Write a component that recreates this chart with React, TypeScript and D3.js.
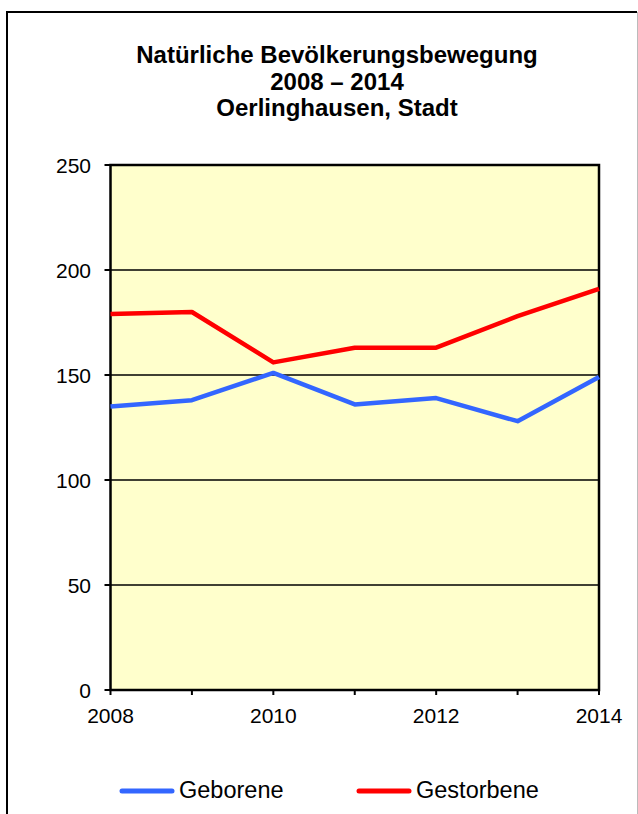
import React from "react";
import * as d3 from "d3";

const years = [2008, 2009, 2010, 2011, 2012, 2013, 2014];
const geborene = [135, 138, 151, 136, 139, 128, 149];
const gestorbene = [179, 180, 156, 163, 163, 178, 191];
const yTicks = [0, 50, 100, 150, 200, 250];
const xLabelYears = [2008, 2010, 2012, 2014];
const titleLines = ["Natürliche Bevölkerungsbewegung", "2008 – 2014", "Oerlinghausen, Stadt"];
const seriesNames = ["Geborene", "Gestorbene"];
const seriesColors = ["#3366FF", "#FF0000"];

export default function App() {
  const W = 638, H = 814;
  const left = 110.5, right = 599, top = 165, bottom = 690;
  const x = d3.scaleLinear().domain([2008, 2014]).range([left, right]);
  const y = d3.scaleLinear().domain([0, 250]).range([bottom, top]);
  const line = d3.line<number>().x((_, i) => x(years[i])).y((d) => y(d));
  const font = "'Liberation Sans', Arial, sans-serif";
  const series = [geborene, gestorbene];
  const legendX = [120, 357];
  return (
    <svg width={W} height={H} style={{ position: "absolute", left: 0, top: 0 }} fontFamily={font}>
      <rect x={0} y={0} width={W} height={H} fill="#fff" />
      <line x1={6} y1={12} x2={637} y2={12} stroke="#000" strokeWidth={2} />
      <line x1={7} y1={11} x2={7} y2={H} stroke="#000" strokeWidth={2} />
      <line x1={637.5} y1={12} x2={637.5} y2={H} stroke="#bbb" strokeWidth={1} />
      {titleLines.map((t, i) => (
        <text key={i} x={337} y={63 + i * 26.5} textAnchor="middle" fontWeight="bold" fontSize={24} fill="#000">
          {t}
        </text>
      ))}
      <rect x={left} y={top} width={right - left} height={bottom - top} fill="#FFFFCC" />
      {yTicks.filter((v) => v > 0 && v < 250).map((v) => (
        <line key={v} x1={left} x2={right} y1={y(v)} y2={y(v)} stroke="#000" strokeWidth={1.5} />
      ))}
      <rect x={left} y={top} width={right - left} height={bottom - top} fill="none" stroke="#000" strokeWidth={2.5} />
      {yTicks.map((v) => (
        <g key={v}>
          <line x1={left - 6} x2={left} y1={y(v)} y2={y(v)} stroke="#000" strokeWidth={2} />
          <text x={91} y={y(v) + 7.5} textAnchor="end" fontSize={21} fill="#000">{v}</text>
        </g>
      ))}
      {years.map((yr) => (
        <line key={yr} x1={x(yr)} x2={x(yr)} y1={bottom} y2={bottom + 5} stroke="#000" strokeWidth={2} />
      ))}
      {xLabelYears.map((yr) => (
        <text key={yr} x={x(yr)} y={723} textAnchor="middle" fontSize={21} fill="#000">{yr}</text>
      ))}
      {series.map((s, i) => (
        <path key={i} d={line(s) || ""} fill="none" stroke={seriesColors[i]} strokeWidth={4.5} strokeLinejoin="round" />
      ))}
      {seriesNames.map((n, i) => (
        <g key={n}>
          <line x1={legendX[i] + 2} x2={legendX[i] + 52} y1={791} y2={791} stroke={seriesColors[i]} strokeWidth={5} strokeLinecap="round" />
          <text x={legendX[i] + 59} y={798} fontSize={23.5} fill="#000">{n}</text>
        </g>
      ))}
    </svg>
  );
}
